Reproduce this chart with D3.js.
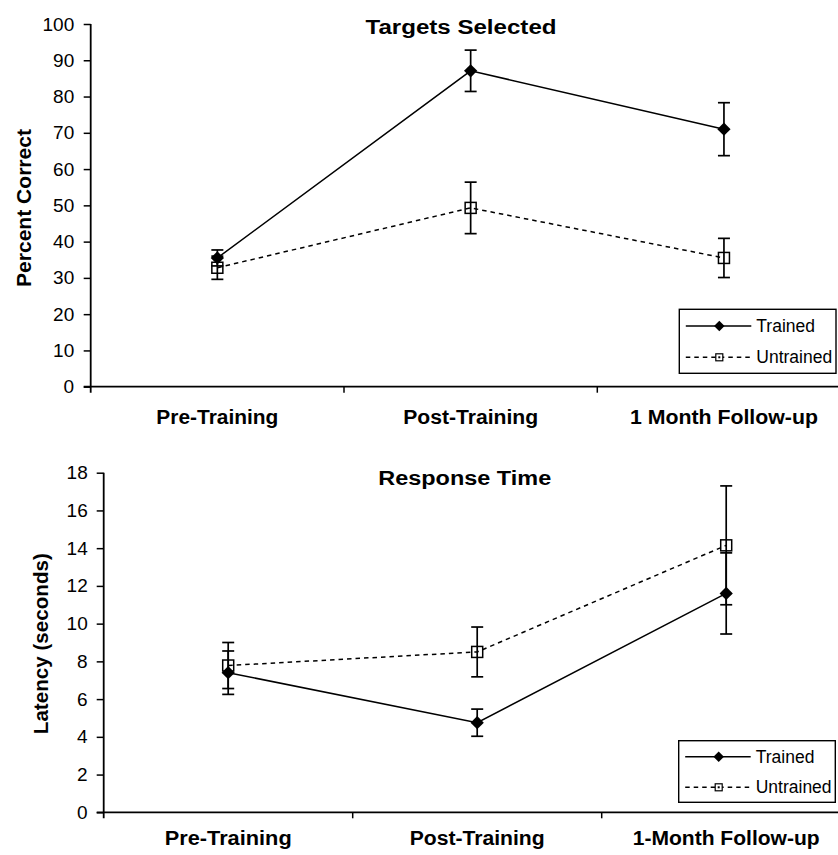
<!DOCTYPE html>
<html>
<head>
<meta charset="utf-8">
<script src="https://cdn.jsdelivr.net/npm/d3@7"></script>
<style>
  body { margin: 0; background: #fff; }
  svg { display: block; }
  text { font-family: "Liberation Sans", Arial, sans-serif; fill: #000; }
</style>
</head>
<body>
<div id="chart"></div>
<script>
// data
const seriesNames = ['Trained', 'Untrained'];

const categoriesTop = ['Pre-Training', 'Post-Training', '1 Month Follow-up'];
const pctTrained = [35.5, 87.1, 71.0];
const pctTrainedErr = [2.2, 5.7, 7.3];
const pctUntrained = [32.8, 49.3, 35.5];
const pctUntrainedErr = [3.2, 7.1, 5.4];
const pctTicks = [0, 10, 20, 30, 40, 50, 60, 70, 80, 90, 100];

const categoriesBottom = ['Pre-Training', 'Post-Training', '1-Month Follow-up'];
const latTrained = [7.4, 4.75, 11.6];
const latTrainedErr = [1.15, 0.72, 2.15];
const latUntrained = [7.78, 8.5, 14.15];
const latUntrainedErr = [1.22, 1.32, 3.15];
const latTicks = [0, 2, 4, 6, 8, 10, 12, 14, 16, 18];

const width = 838;
const height = 855;

const svg = d3.select('#chart')
  .append('svg')
  .attr('width', width)
  .attr('height', height);

const diamond = d3.symbol().type(d3.symbolSquare);

function drawPanel(p) {
  const g = svg.append('g');

  const x = d3.scaleBand()
    .domain(p.categories)
    .range([p.left, p.left + 3 * p.band])
    .paddingInner(0)
    .paddingOuter(0);

  const y = d3.scaleLinear()
    .domain([0, p.yMax])
    .range([p.bottom, p.top]);

  // y axis
  const yAxis = d3.axisLeft(y)
    .tickValues(p.ticks)
    .tickSize(7)
    .tickPadding(p.tickPad)
    .tickFormat(d3.format('d'));

  const gy = g.append('g')
    .attr('transform', `translate(${p.left},0)`)
    .call(yAxis);
  gy.select('.domain').remove();
  gy.selectAll('line').attr('stroke', '#000').attr('stroke-width', 1.5);
  gy.selectAll('text')
    .style('font-size', '19px')
    .style('font-family', '"Liberation Sans", Arial, sans-serif');

  g.append('line')
    .attr('x1', p.left).attr('x2', p.left)
    .attr('y1', p.top).attr('y2', p.bottom + 6)
    .attr('stroke', '#000').attr('stroke-width', 1.8);

  // x axis, labels only
  const xAxis = d3.axisBottom(x).tickSize(0).tickPadding(0);
  const gx = g.append('g')
    .attr('transform', `translate(0,${p.bottom})`)
    .call(xAxis);
  gx.select('.domain').remove();
  gx.selectAll('text')
    .attr('y', p.catBaseline - p.bottom)
    .attr('dy', 0)
    .style('font-size', '20px')
    .style('font-weight', 'bold')
    .style('font-family', '"Liberation Sans", Arial, sans-serif')
    .attr('textLength', (d, i) => p.catLengths[i])
    .attr('lengthAdjust', 'spacingAndGlyphs');

  g.append('line')
    .attr('x1', p.left - 7).attr('x2', p.left + 3 * p.band)
    .attr('y1', p.bottom).attr('y2', p.bottom)
    .attr('stroke', '#000').attr('stroke-width', 1.8);

  // category boundary ticks
  g.selectAll('.cattick')
    .data(p.categories.slice(1))
    .enter()
    .append('line')
    .attr('class', 'cattick')
    .attr('x1', d => x(d)).attr('x2', d => x(d))
    .attr('y1', p.bottom).attr('y2', p.bottom + 6)
    .attr('stroke', '#000').attr('stroke-width', 1.5);

  // title
  g.append('text')
    .attr('x', p.titleX)
    .attr('y', p.titleY)
    .attr('text-anchor', 'middle')
    .style('font-size', '20px')
    .style('font-weight', 'bold')
    .attr('textLength', p.titleLength)
    .attr('lengthAdjust', 'spacingAndGlyphs')
    .text(p.title);

  // y label
  g.append('text')
    .attr('transform', `translate(${p.yLabelX},${p.yLabelY}) rotate(-90)`)
    .attr('text-anchor', 'middle')
    .style('font-size', '20px')
    .style('font-weight', 'bold')
    .attr('textLength', p.yLabelLength)
    .attr('lengthAdjust', 'spacingAndGlyphs')
    .text(p.yLabel);

  const cx = d => x(d) + x.bandwidth() / 2;

  const series = [
    { name: seriesNames[0], values: p.trained, errs: p.trainedErr, dash: null },
    { name: seriesNames[1], values: p.untrained, errs: p.untrainedErr, dash: '4.5,4' }
  ];

  const line = d3.line()
    .x(d => cx(d.cat))
    .y(d => y(d.v));

  // untrained first, trained on top
  series.slice().reverse().forEach(s => {
    const pts = p.categories.map((c, i) => ({ cat: c, v: s.values[i], e: s.errs[i] }));

    g.append('path')
      .datum(pts)
      .attr('d', line)
      .attr('fill', 'none')
      .attr('stroke', '#000')
      .attr('stroke-width', 1.5)
      .attr('stroke-dasharray', s.dash);

    const eb = g.selectAll(null).data(pts).enter().append('g');
    eb.append('line')
      .attr('x1', d => cx(d.cat)).attr('x2', d => cx(d.cat))
      .attr('y1', d => y(d.v - d.e)).attr('y2', d => y(d.v + d.e))
      .attr('stroke', '#000').attr('stroke-width', 1.7);
    eb.append('line')
      .attr('x1', d => cx(d.cat) - 6).attr('x2', d => cx(d.cat) + 6)
      .attr('y1', d => y(d.v + d.e)).attr('y2', d => y(d.v + d.e))
      .attr('stroke', '#000').attr('stroke-width', 1.7);
    eb.append('line')
      .attr('x1', d => cx(d.cat) - 6).attr('x2', d => cx(d.cat) + 6)
      .attr('y1', d => y(d.v - d.e)).attr('y2', d => y(d.v - d.e))
      .attr('stroke', '#000').attr('stroke-width', 1.7);

    if (s.dash) {
      g.selectAll(null).data(pts).enter().append('rect')
        .attr('x', d => cx(d.cat) - 5.5)
        .attr('y', d => y(d.v) - 5.5)
        .attr('width', 11).attr('height', 11)
        .attr('fill', 'none')
        .attr('stroke', '#000').attr('stroke-width', 1.5);
    } else {
      g.selectAll(null).data(pts).enter().append('path')
        .attr('d', diamond.size(88)())
        .attr('transform', d => `translate(${cx(d.cat)},${y(d.v)}) rotate(45)`)
        .attr('fill', '#000');
    }
  });

  // legend
  const lg = g.append('g').attr('transform', `translate(${p.legend.x},${p.legend.y})`);
  lg.append('rect')
    .attr('width', p.legend.w).attr('height', p.legend.h)
    .attr('fill', '#fff').attr('stroke', '#000').attr('stroke-width', 1.4);

  series.forEach((s, i) => {
    const ry = p.legend.rows[i];
    lg.append('line')
      .attr('x1', 6.5).attr('x2', 72)
      .attr('y1', ry).attr('y2', ry)
      .attr('stroke', '#000').attr('stroke-width', 1.4)
      .attr('stroke-dasharray', s.dash);
    if (s.dash) {
      lg.append('rect')
        .attr('x', 40 - 3.5).attr('y', ry - 3.5)
        .attr('width', 7).attr('height', 7)
        .attr('fill', '#fff')
        .attr('stroke', '#000').attr('stroke-width', 1.2);
      lg.append('rect')
        .attr('x', 40 - 1).attr('y', ry - 1)
        .attr('width', 2).attr('height', 2)
        .attr('fill', '#000');
    } else {
      lg.append('path')
        .attr('d', diamond.size(55)())
        .attr('transform', `translate(40,${ry}) rotate(45)`)
        .attr('fill', '#000');
    }
    lg.append('text')
      .attr('x', 77)
      .attr('y', ry + 6)
      .style('font-size', '17.5px')
      .text(s.name);
  });
}

drawPanel({
  categories: categoriesTop,
  trained: pctTrained, trainedErr: pctTrainedErr,
  untrained: pctUntrained, untrainedErr: pctUntrainedErr,
  ticks: pctTicks, yMax: 100,
  left: 90.7, band: 253.3, top: 24, bottom: 386.7, tickPad: 9.5,
  catBaseline: 424.5, catLengths: [122, 135, 188],
  title: 'Targets Selected', titleX: 461, titleY: 34, titleLength: 191,
  yLabel: 'Percent Correct', yLabelX: 31, yLabelY: 208, yLabelLength: 158,
  legend: { x: 679.3, y: 309.3, w: 156.7, h: 64, rows: [16.7, 48] }
});

drawPanel({
  categories: categoriesBottom,
  trained: latTrained, trainedErr: latTrainedErr,
  untrained: latUntrained, untrainedErr: latUntrainedErr,
  ticks: latTicks, yMax: 18,
  left: 103.7, band: 249, top: 472.7, bottom: 812.3, tickPad: 9,
  catBaseline: 845, catLengths: [127, 135, 187],
  title: 'Response Time', titleX: 464.7, titleY: 485, titleLength: 173,
  yLabel: 'Latency (seconds)', yLabelX: 48, yLabelY: 643.7, yLabelLength: 181,
  legend: { x: 678.7, y: 740.7, w: 156.6, h: 61.6, rows: [16, 46.6] }
});
</script>
</body>
</html>
